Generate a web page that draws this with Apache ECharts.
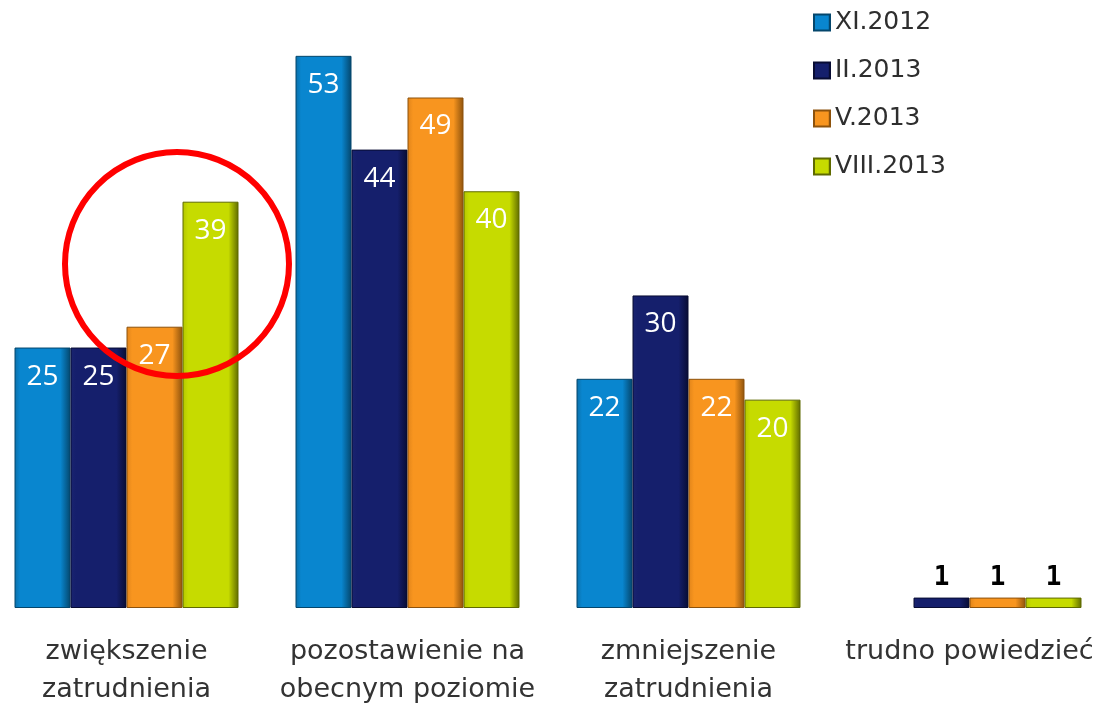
<!DOCTYPE html>
<html>
<head>
<meta charset="utf-8">
<script src="https://cdn.jsdelivr.net/npm/echarts@6/dist/echarts.min.js"></script>
<style>
html, body { margin: 0; padding: 0; background: #fff; }
#main { width: 1104px; height: 704px; }
</style>
</head>
<body>
<div id="main"></div>
<script>
// kategorie i wartości (%)
var categories = ['zwiększenie\nzatrudnienia', 'pozostawienie na\nobecnym poziomie', 'zmniejszenie\nzatrudnienia', 'trudno powiedzieć'];
var seriesNames = ['XI.2012', 'II.2013', 'V.2013', 'VIII.2013'];
var xi2012 = [25, 53, 22, null];
var ii2013 = [25, 44, 30, 1];
var v2013 = [27, 49, 22, 1];
var viii2013 = [39, 40, 20, 1];

var values = [xi2012, ii2013, v2013, viii2013];
// kolory: brzeg lewy, środek, brzeg prawy
var palette = [
    ['#0b6fa8', '#0986cf', '#04466c'],
    ['#1a2470', '#151f6c', '#080c33'],
    ['#e0841a', '#f8951f', '#8d520c'],
    ['#b3c500', '#c6db00', '#5f6a00']
];

function grad(c) {
    return {
        type: 'linear', x: 0, y: 0, x2: 1, y2: 0,
        colorStops: [
            { offset: 0, color: c[0] },
            { offset: 0.1, color: c[1] },
            { offset: 0.82, color: c[1] },
            { offset: 1, color: c[2] }
        ]
    };
}

var myChart = echarts.init(document.getElementById('main'));

var series = seriesNames.map(function (name, i) {
    return {
        name: name,
        type: 'bar',
        barWidth: 56,
        barGap: '0%',
        itemStyle: { color: grad(palette[i]), borderColor: palette[i][2], borderWidth: 1 },
        label: {
            show: true,
            position: 'insideTop',
            distance: 15,
            color: '#fff',
            fontFamily: 'Open Sans',
            fontSize: 28
        },
        data: values[i].map(function (v, j) {
            if (v === null) return null;
            if (j === 3) {
                // małe słupki - etykieta nad słupkiem
                return {
                    value: v,
                    label: {
                        position: 'top',
                        distance: 6,
                        color: '#000',
                        fontFamily: 'DejaVu Sans Mono',
                        fontWeight: 'bold',
                        fontSize: 26
                    }
                };
            }
            return v;
        })
    };
});

var option = {
    animation: false,
    backgroundColor: '#fff',
    legend: {
        orient: 'vertical',
        left: 808,
        top: 5,
        itemWidth: 16,
        itemHeight: 16,
        itemGap: 23,
        icon: 'rect',
        textStyle: { fontFamily: 'DejaVu Sans', fontSize: 25, color: '#2e2e2e' },
        data: seriesNames
    },
    grid: { left: -14, width: 1124, top: 35, bottom: 96, outerBoundsMode: 'none', containLabel: false },
    xAxis: {
        type: 'category',
        data: categories,
        axisLine: { show: false },
        axisTick: { show: false },
        axisLabel: {
            interval: 0,
            margin: 25,
            fontFamily: 'DejaVu Sans',
            fontSize: 27,
            lineHeight: 38,
            color: '#333'
        }
    },
    yAxis: {
        type: 'value',
        min: 0,
        max: 55,
        show: false,
        splitLine: { show: false }
    },
    graphic: [{
        type: 'circle',
        shape: { cx: 177, cy: 264, r: 112 },
        style: { fill: 'none', stroke: '#ff0000', lineWidth: 6 },
        z: 100
    }],
    series: series
};

myChart.setOption(option);
</script>
</body>
</html>
